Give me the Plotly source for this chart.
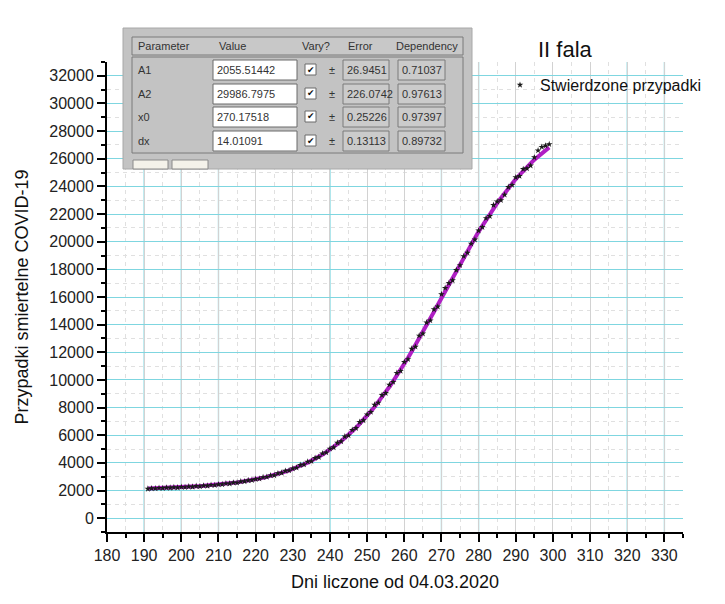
import plotly.graph_objects as go

# --- observed cumulative deaths (day counted from 04.03.2020) ---
days = list(range(191, 300))
deaths = [
    2120, 2155, 2150, 2185, 2170, 2210, 2195, 2230, 2215, 2255,
    2240, 2285, 2270, 2320, 2305, 2350, 2340, 2400, 2385, 2440,
    2450, 2510, 2500, 2570, 2560, 2650, 2660, 2740, 2750, 2830,
    2850, 2960, 2980, 3090, 3100, 3240, 3280, 3420, 3450, 3590,
    3650, 3840, 3880, 4080, 4120, 4350, 4420, 4680, 4750, 5020,
    5120, 5450, 5560, 5900, 5980, 6380, 6520, 6950, 7080, 7500,
    7680, 8200, 8350, 8900, 9050, 9650, 9850, 10500, 10650, 11300,
    11500, 12250, 12400, 13200, 13350, 14150, 14300, 15100, 15300, 16200,
    16650, 17000, 17200, 17950, 18300, 18950, 19200, 19850, 20150, 20800,
    21050, 21700, 21850, 22650, 22900, 23000, 23400, 23950, 24100, 24650,
    24750, 25250, 25300, 25500, 26100, 26600, 26850, 26950, 27050,
]

# --- Boltzmann fit parameters (shown in the parameter table) ---
param_names = ["A1", "A2", "x0", "dx"]
param_values = ["2055.51442", "29986.7975", "270.17518", "14.01091"]
param_errors = ["26.9451", "226.0742", "0.25226", "0.13113"]
param_dependency = ["0.71037", "0.97613", "0.97397", "0.89732"]
table_headers = ["Parameter", "Value", "Vary?", "Error", "Dependency"]

A1, A2, x0, dx = (float(v) for v in param_values)
fit_x = [191 + 0.5 * i for i in range(217)]
fit_y = [A2 + (A1 - A2) / (1 + 2.718281828459045 ** ((x - x0) / dx)) for x in fit_x]

# x grid lines drawn in cyan (the rest stay grey)
cyan_x_lines = [190, 200, 210, 240, 270, 280, 320, 330]

# plot-area geometry in pixels
L, R, T, B = 107, 683, 62, 532
W, H = R - L, B - T


def px(x):
    return (x - L) / W


def py(y):
    return (B - y) / H


FONT = "Liberation Sans, Arial, sans-serif"
CYAN = "#7fd6e0"
GREY = "#d2d2d2"
MINOR = "#e0e0e0"

fig = go.Figure()

fig.add_trace(go.Scatter(
    x=fit_x, y=fit_y, mode="lines",
    line=dict(color="#b01ec4", width=4),
    showlegend=False, hoverinfo="skip",
))
fig.add_trace(go.Scatter(
    x=days, y=deaths, mode="markers",
    marker=dict(symbol="star", size=5, color="#1a1a1a", line=dict(width=0)),
    name="Stwierdzone przypadki",
))

shapes = []
for xv in cyan_x_lines:
    shapes.append(dict(type="line", xref="x", yref="paper", x0=xv, x1=xv, y0=0, y1=1,
                       line=dict(color=CYAN, width=1.3), layer="between"))

# parameter panel
panel_fill = "#c3c3c3"
shapes.append(dict(type="rect", xref="paper", yref="paper",
                   x0=px(123), x1=px(472), y0=py(169), y1=py(28),
                   fillcolor=panel_fill, line=dict(color="#a8a8a8", width=1), layer="above"))
# buttons at the bottom of the panel
for bx0, bx1 in [(133, 168), (172, 208)]:
    shapes.append(dict(type="rect", xref="paper", yref="paper",
                       x0=px(bx0), x1=px(bx1), y0=py(169), y1=py(160),
                       fillcolor="#f4f2ea", line=dict(color="#8a8a8a", width=1), layer="above"))
# header strip and body frame
shapes.append(dict(type="rect", xref="paper", yref="paper",
                   x0=px(132), x1=px(463), y0=py(55), y1=py(37),
                   fillcolor="#c8c8c8", line=dict(color="#7a7a7a", width=1), layer="above"))
shapes.append(dict(type="rect", xref="paper", yref="paper",
                   x0=px(132), x1=px(463), y0=py(153), y1=py(57),
                   fillcolor="rgba(0,0,0,0)", line=dict(color="#7a7a7a", width=1), layer="above"))

row_y = [70, 94, 117, 141]
annotations = []

header_x = [136, 217, 300, 346, 394]
for hx, htxt in zip(header_x, table_headers):
    annotations.append(dict(xref="paper", yref="paper", x=px(hx), y=py(46),
                            text=htxt, showarrow=False, xanchor="left", yanchor="middle",
                            font=dict(family=FONT, size=11, color="#333333")))

for ry, name, val, err, dep in zip(row_y, param_names, param_values, param_errors, param_dependency):
    # value box
    shapes.append(dict(type="rect", xref="paper", yref="paper",
                       x0=px(213), x1=px(297), y0=py(ry + 10), y1=py(ry - 10),
                       fillcolor="white", line=dict(color="#6a6a6a", width=1), layer="above"))
    # checkbox
    shapes.append(dict(type="rect", xref="paper", yref="paper",
                       x0=px(305), x1=px(316), y0=py(ry + 5), y1=py(ry - 6),
                       fillcolor="white", line=dict(color="#6a6a6a", width=1), layer="above"))
    # error and dependency boxes
    for bx0, bx1 in [(343, 389), (398, 445)]:
        shapes.append(dict(type="rect", xref="paper", yref="paper",
                           x0=px(bx0), x1=px(bx1), y0=py(ry + 10), y1=py(ry - 10),
                           fillcolor="#cbcbcb", line=dict(color="#7a7a7a", width=1), layer="above"))
    for tx, txt in [(136, name), (215, val), (345, err), (400, dep)]:
        annotations.append(dict(xref="paper", yref="paper", x=px(tx), y=py(ry),
                                text=txt, showarrow=False, xanchor="left", yanchor="middle",
                                font=dict(family=FONT, size=11, color="#333333")))
    annotations.append(dict(xref="paper", yref="paper", x=px(310.5), y=py(ry - 0.5),
                            text="✔", showarrow=False, xanchor="center", yanchor="middle",
                            font=dict(family="DejaVu Sans", size=9, color="#111111")))
    annotations.append(dict(xref="paper", yref="paper", x=px(332), y=py(ry),
                            text="±", showarrow=False, xanchor="center", yanchor="middle",
                            font=dict(family=FONT, size=11, color="#333333")))

# chart title
annotations.append(dict(xref="paper", yref="paper", x=px(565), y=py(50),
                        text="II fala", showarrow=False, xanchor="center", yanchor="middle",
                        font=dict(family=FONT, size=22, color="#111111")))

fig.update_layout(
    width=725, height=604,
    margin=dict(l=L, r=725 - R, t=T, b=604 - B),
    paper_bgcolor="white", plot_bgcolor="white",
    font=dict(family=FONT, color="#222222"),
    shapes=shapes, annotations=annotations,
    legend=dict(x=px(500), y=py(68), xanchor="left", yanchor="top",
                bgcolor="rgba(0,0,0,0)", font=dict(family=FONT, size=16, color="#111111")),
    showlegend=True,
)

fig.update_xaxes(
    range=[180, 335], tick0=180, dtick=10,
    showline=True, linecolor="black", linewidth=2,
    ticks="outside", ticklen=8, tickwidth=1.5, tickcolor="black",
    tickfont=dict(family=FONT, size=16, color="#222222"),
    showgrid=True, gridcolor=GREY, gridwidth=1, zeroline=False,
    minor=dict(dtick=5, ticks="outside", ticklen=4, tickwidth=1.5, tickcolor="black",
               showgrid=True, gridcolor=MINOR, griddash="4px,4px"),
    title=dict(text="Dni liczone od 04.03.2020", standoff=12,
               font=dict(family=FONT, size=18, color="#111111")),
)
fig.update_yaxes(
    range=[-1000, 33000], tick0=0, dtick=2000, tickformat="d",
    showline=True, linecolor="black", linewidth=2,
    ticks="outside", ticklen=8, tickwidth=1.5, tickcolor="black",
    tickfont=dict(family=FONT, size=16, color="#222222"),
    showgrid=True, gridcolor=CYAN, gridwidth=1.2, zeroline=False,
    minor=dict(dtick=1000, ticks="outside", ticklen=4, tickwidth=1.5, tickcolor="black",
               showgrid=True, gridcolor=MINOR, griddash="4px,4px"),
    title=dict(text="Przypadki smiertelne COVID-19", standoff=16,
               font=dict(family=FONT, size=18, color="#111111")),
)

fig.write_html("out.html")
